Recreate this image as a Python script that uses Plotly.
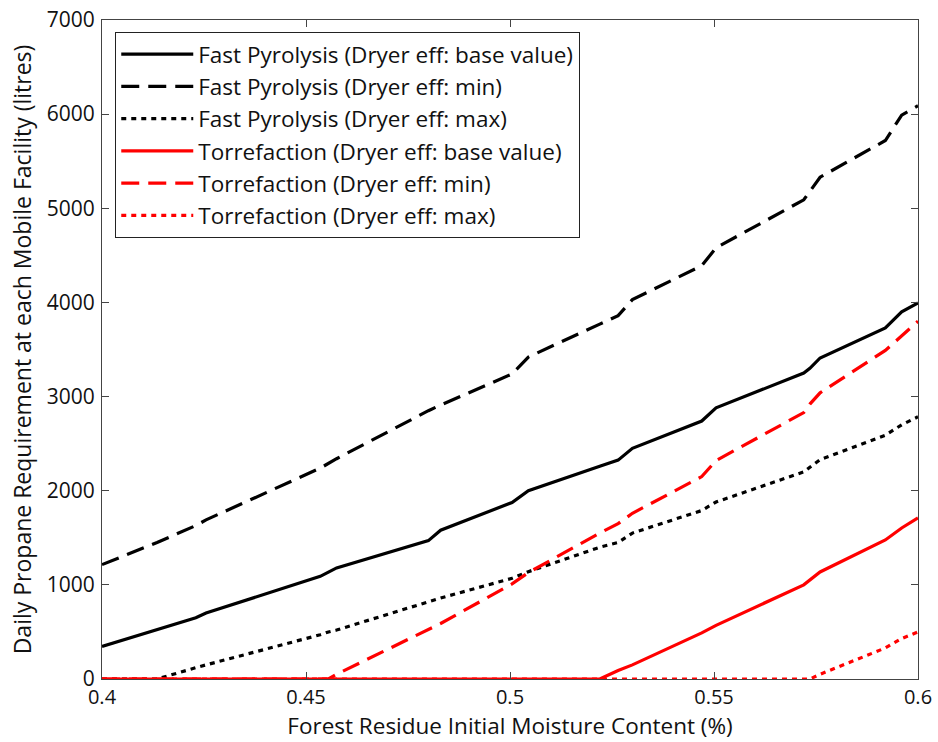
import plotly.graph_objects as go

moisture = [0.4, 0.4135, 0.423, 0.4255, 0.4535, 0.4555, 0.4575, 0.48, 0.483, 0.5005, 0.5045,
            0.522, 0.5265, 0.53, 0.547, 0.5505, 0.572, 0.5735, 0.576, 0.592, 0.596, 0.6]

fp_base = [345, 520, 650, 700, 1090, 1135, 1180, 1470, 1580, 1875, 2000,
           2260, 2325, 2450, 2740, 2880, 3250, 3300, 3410, 3730, 3900, 3995]
fp_min = [1215, 1450, 1630, 1690, 2240, 2290, 2340, 2850, 2910, 3240, 3420,
          3770, 3860, 4030, 4390, 4580, 5090, 5180, 5330, 5720, 5990, 6090]
fp_max = [0, 0, 120, 150, 470, 500, 520, 820, 860, 1070, 1140,
          1400, 1450, 1550, 1790, 1880, 2200, 2250, 2330, 2590, 2700, 2785]
tor_base = [0, 0, 0, 0, 0, 0, 0, 0, 0, 0, 0,
            0, 90, 150, 490, 570, 1000, 1050, 1137, 1477, 1604, 1711]
tor_min = [0, 0, 0, 0, 0, 0, 50, 530, 590, 1010, 1130,
           1550, 1650, 1760, 2150, 2320, 2830, 2920, 3040, 3490, 3650, 3800]
tor_max = [0, 0, 0, 0, 0, 0, 0, 0, 0, 0, 0,
           0, 0, 0, 0, 0, 0, 0, 50, 330, 430, 500]

series = [
    ("Fast Pyrolysis (Dryer eff: base value)", fp_base, "black", "solid"),
    ("Fast Pyrolysis (Dryer eff: min)", fp_min, "black", "18px,9px"),
    ("Fast Pyrolysis (Dryer eff: max)", fp_max, "black", "5px,5px"),
    ("Torrefaction (Dryer eff: base value)", tor_base, "#ff0000", "solid"),
    ("Torrefaction (Dryer eff: min)", tor_min, "#ff0000", "18px,9px"),
    ("Torrefaction (Dryer eff: max)", tor_max, "#ff0000", "5px,5px"),
]

FONT = "Open Sans"
fig = go.Figure()
for i, (name, ys, col, dash) in enumerate(series):
    fig.add_trace(go.Scatter(x=moisture, y=ys, mode="lines", name=name,
                             legendgroup=f"g{i}",
                             line=dict(color=col, width=3.2, dash=dash)))

axis_common = dict(showgrid=False, zeroline=False, showline=True, linecolor="#444",
                   linewidth=1.2, mirror="ticks", ticks="inside", ticklen=7,
                   tickcolor="#444", tickwidth=1, automargin=False)

fig.update_xaxes(range=[0.4, 0.6], tickvals=[0.4, 0.45, 0.5, 0.55, 0.6],
                 ticktext=["0.4", "0.45", "0.5", "0.55", "0.6"],
                 ticklabelstandoff=0,
                 tickfont=dict(family=FONT, size=20, color="#111"),
                 title=dict(text="Forest Residue Initial Moisture Content (%)",
                            font=dict(family=FONT, size=22.5, color="#111"), standoff=8),
                 **axis_common)
fig.update_yaxes(range=[0, 7000], tickvals=list(range(0, 7001, 1000)),
                 ticklabelstandoff=2,
                 tickfont=dict(family=FONT, size=21, color="#111"),
                 title=dict(text="Daily Propane Requirement at each Mobile Facility (litres)",
                            font=dict(family=FONT, size=23, color="#111"), standoff=8),
                 **axis_common)

fig.update_layout(
    width=938, height=742,
    margin=dict(l=102, r=20, t=20, b=63),
    plot_bgcolor="white", paper_bgcolor="white",
    showlegend=True,
    legend=dict(x=0.016, y=0.982, xanchor="left", yanchor="top",
                bgcolor="white", bordercolor="#222", borderwidth=1.2,
                font=dict(family=FONT, size=22.5, color="#111"),
                tracegroupgap=0, itemwidth=72),
)

fig.write_html("out.html")
